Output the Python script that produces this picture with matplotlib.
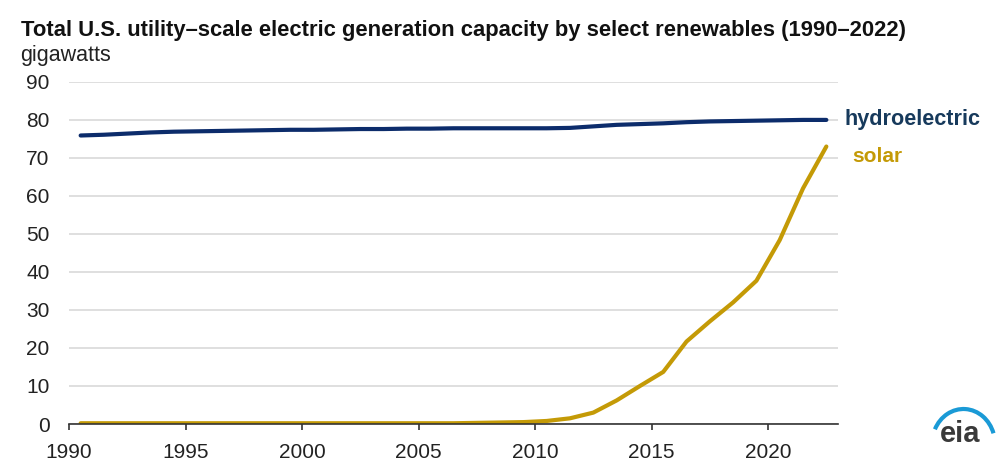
import matplotlib
matplotlib.use("Agg")
import matplotlib.pyplot as plt
from matplotlib.patches import Arc
import numpy as np

years = list(range(1990, 2023))
hydro = [75.9, 76.1, 76.4, 76.7, 76.9, 77.0, 77.1, 77.2, 77.3, 77.4, 77.4,
         77.5, 77.6, 77.6, 77.7, 77.7, 77.8, 77.8, 77.8, 77.8, 77.8, 77.9,
         78.3, 78.7, 78.9, 79.1, 79.4, 79.6, 79.7, 79.8, 79.9, 80.0, 80.0]
solar = [0.2, 0.2, 0.2, 0.2, 0.2, 0.2, 0.2, 0.2, 0.2, 0.2, 0.2,
         0.2, 0.2, 0.2, 0.2, 0.2, 0.2, 0.3, 0.4, 0.5, 0.8, 1.5,
         3.0, 6.2, 10.0, 13.7, 21.7, 27.0, 32.0, 37.7, 48.4, 62.0, 73.0]
xticks = [1990, 1995, 2000, 2005, 2010, 2015, 2020]
yticks = [0, 10, 20, 30, 40, 50, 60, 70, 80, 90]

title = "Total U.S. utility\u2013scale electric generation capacity by select renewables (1990\u20132022)"
unit = "gigawatts"

plt.rcParams['font.family'] = ['Liberation Sans', 'DejaVu Sans']

HYDRO_C = "#0c2c6b"
SOLAR_C = "#c49a06"

fig = plt.figure(figsize=(10, 4.68), dpi=100)
ax = fig.add_axes([0.069, 0.094, 0.769, 0.731])

x = np.array(years) + 0.5
ax.plot(x, hydro, color=HYDRO_C, lw=3, solid_capstyle='round')
ax.plot(x, solar, color=SOLAR_C, lw=3, solid_capstyle='round')

ax.set_xlim(1990, 2023)
ax.set_ylim(0, 90)
ax.set_xticks(xticks)
ax.set_yticks(yticks)
ax.grid(axis='y', color='#d9d9d9', lw=1.2)
ax.set_axisbelow(True)
for s in ['left', 'right', 'top']:
    ax.spines[s].set_visible(False)
ax.spines['bottom'].set_color('#333333')
ax.spines['bottom'].set_linewidth(1.2)
ax.tick_params(axis='x', length=4.5, width=1.2, color='#333333', pad=9,
               labelsize=15, labelcolor='#222222')
ax.tick_params(axis='y', length=0, pad=14, labelsize=15, labelcolor='#222222')

ax.text(2023.3, hydro[-1], "hydroelectric", color="#173a5c", fontsize=15.6,
        fontweight='bold', va='center', ha='left', clip_on=False)
ax.text(2023.6, 70.5, "solar", color=SOLAR_C, fontsize=15,
        fontweight='bold', va='center', ha='left', clip_on=False)

fig.text(0.021, 0.923, title, fontsize=15.8, fontweight='bold', color='#111111',
         va='baseline', ha='left')
fig.text(0.020, 0.870, unit, fontsize=15.5, color='#222222', va='baseline', ha='left')

# eia logo
fig.text(0.960, 1 - 442 / 468, "eia", fontsize=21, color='#3a3a3a', ha='center',
         va='baseline', fontweight='bold')
lax = fig.add_axes([0.925, 1 - 440 / 468, 0.07, 40 / 468])
lax.set_xlim(0, 1); lax.set_ylim(0, 1); lax.axis('off')
lax.add_patch(Arc((0.55, -0.1), 0.9, 1.75, theta1=32, theta2=138,
                  color='#1a9ad6', lw=3, clip_on=False))

fig.savefig("out.png", dpi=100)
